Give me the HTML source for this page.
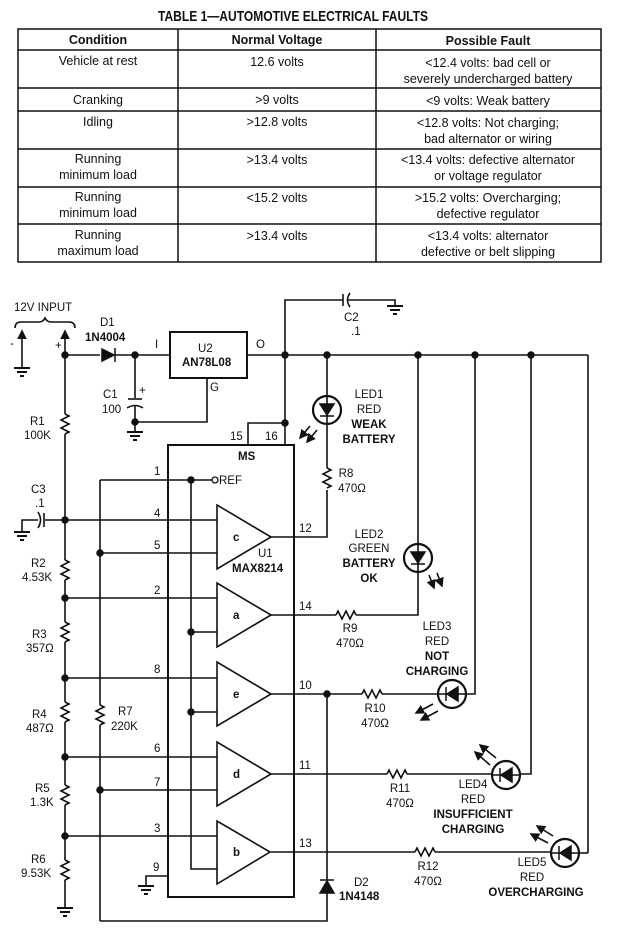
<!DOCTYPE html>
<html><head><meta charset="utf-8"><style>
html,body{margin:0;padding:0;background:#fff;}
svg{display:block;}
text{font-family:"Liberation Sans Narrow","Liberation Sans",sans-serif;fill:#111;}
.t{font-size:12.5px;}
.b{font-weight:bold;}
.c{font-family:"Liberation Sans",sans-serif;font-size:11.5px;}
.cb{font-family:"Liberation Sans",sans-serif;font-size:11.5px;font-weight:bold;}
</style></head><body>
<svg width="628" height="934" viewBox="0 0 628 934" xmlns="http://www.w3.org/2000/svg">
<defs>
<marker id="ar" markerWidth="6" markerHeight="6" refX="5" refY="3" orient="auto"><path d="M0,0 L6,3 L0,6 z" fill="#111"/></marker>
</defs>
<!-- TABLE -->
<text x="158" y="21" textLength="270" lengthAdjust="spacingAndGlyphs" class="b" style="font-size:15px">TABLE 1—AUTOMOTIVE ELECTRICAL FAULTS</text>
<g stroke="#111" stroke-width="1.5" fill="none">
<rect x="18" y="29" width="583" height="233"/>
<line x1="178" y1="29" x2="178" y2="262"/><line x1="376" y1="29" x2="376" y2="262"/>
<line x1="18" y1="50" x2="601" y2="50"/><line x1="18" y1="88" x2="601" y2="88"/>
<line x1="18" y1="111" x2="601" y2="111"/><line x1="18" y1="149" x2="601" y2="149"/>
<line x1="18" y1="187" x2="601" y2="187"/><line x1="18" y1="224" x2="601" y2="224"/>
</g>
<g class="t" text-anchor="middle">
<text x="98" y="44" class="b">Condition</text><text x="277" y="44" class="b">Normal Voltage</text><text x="488" y="45" class="b">Possible Fault</text>
<text x="98" y="65">Vehicle at rest</text><text x="277" y="66">12.6 volts</text><text x="488" y="67">&lt;12.4 volts: bad cell or</text><text x="488" y="83">severely undercharged battery</text>
<text x="98" y="104">Cranking</text><text x="277" y="104">&gt;9 volts</text><text x="488" y="105">&lt;9 volts: Weak battery</text>
<text x="98" y="126">Idling</text><text x="277" y="126">&gt;12.8 volts</text><text x="488" y="127">&lt;12.8 volts: Not charging;</text><text x="488" y="143">bad alternator or wiring</text>
<text x="98" y="163">Running</text><text x="98" y="179">minimum load</text><text x="277" y="164">&gt;13.4 volts</text><text x="488" y="164">&lt;13.4 volts: defective alternator</text><text x="488" y="180">or voltage regulator</text>
<text x="98" y="201">Running</text><text x="98" y="217">minimum load</text><text x="277" y="202">&lt;15.2 volts</text><text x="488" y="202">&gt;15.2 volts: Overcharging;</text><text x="488" y="218">defective regulator</text>
<text x="98" y="239">Running</text><text x="98" y="255">maximum load</text><text x="277" y="240">&gt;13.4 volts</text><text x="488" y="240">&lt;13.4 volts: alternator</text><text x="488" y="256">defective or belt slipping</text>
</g>

<!-- CIRCUIT -->
<g stroke="#111" stroke-width="1.6" fill="none">
<path d="M15,328 q0,-6 6,-6 h18 q4,0 6,-4 q2,4 6,4 h18 q6,0 6,6"/>
<line x1="22" y1="368" x2="22" y2="331" marker-end="url(#ar)"/>
<line x1="65" y1="355" x2="65" y2="331" marker-end="url(#ar)"/>
<line x1="65" y1="355" x2="100" y2="355"/><line x1="115" y1="355" x2="170" y2="355"/>
<rect x="170" y="332" width="77" height="46" stroke-width="2"/>
<line x1="247" y1="355" x2="588" y2="355"/>
<line x1="588" y1="355" x2="588" y2="853"/>
<line x1="135" y1="355" x2="135" y2="398"/><line x1="128" y1="399" x2="142" y2="399"/>
<path d="M127,408 q8,-5 16,0"/><line x1="135" y1="406" x2="135" y2="432"/>
<path d="M207,378 V422 H135"/>
<path d="M285,355 V300 H343"/><line x1="343" y1="294" x2="343" y2="306"/><path d="M350,293 q-5,7 0,14"/><path d="M348,300 H395 V306"/>
<line x1="285" y1="355" x2="285" y2="445"/><path d="M248,445 V423 H285"/>
<rect x="168" y="445" width="126" height="452" stroke-width="2"/>
<line x1="100" y1="480" x2="213" y2="480"/>
<line x1="100" y1="480" x2="100" y2="705"/><path d="M100,705 l4,2 l-8,4 l8,4 l-8,4 l8,4 l-4,2"/><line x1="100" y1="725" x2="100" y2="921"/>
<path d="M100,921 H327 V892"/>
<path d="M191,480 V869 H217"/>
<line x1="65" y1="355" x2="65" y2="414"/><path d="M65,414 l4,2 l-8,4 l8,4 l-8,4 l8,4 l-4,2"/>
<line x1="65" y1="434" x2="65" y2="560"/><path d="M65,560 l4,2 l-8,4 l8,4 l-8,4 l8,4 l-4,2"/>
<line x1="65" y1="580" x2="65" y2="622"/><path d="M65,622 l4,2 l-8,4 l8,4 l-8,4 l8,4 l-4,2"/>
<line x1="65" y1="642" x2="65" y2="702"/><path d="M65,702 l4,2 l-8,4 l8,4 l-8,4 l8,4 l-4,2"/>
<line x1="65" y1="722" x2="65" y2="785"/><path d="M65,785 l4,2 l-8,4 l8,4 l-8,4 l8,4 l-4,2"/>
<line x1="65" y1="805" x2="65" y2="860"/><path d="M65,860 l4,2 l-8,4 l8,4 l-8,4 l8,4 l-4,2"/>
<line x1="65" y1="880" x2="65" y2="908"/>
<line x1="65" y1="520" x2="45" y2="520"/><line x1="44" y1="513" x2="44" y2="527"/><path d="M38,512 q5,8 0,16"/><path d="M38,520 H22 V532"/>
<line x1="65" y1="520" x2="217" y2="520"/><line x1="100" y1="553" x2="217" y2="553"/>
<line x1="65" y1="598" x2="217" y2="598"/><line x1="191" y1="632" x2="217" y2="632"/>
<line x1="65" y1="678" x2="217" y2="678"/><line x1="191" y1="712" x2="217" y2="712"/>
<line x1="65" y1="757" x2="217" y2="757"/><line x1="100" y1="790" x2="217" y2="790"/>
<line x1="65" y1="836" x2="217" y2="836"/>
<path d="M217,505 V569 L271,537 Z"/>
<path d="M217,583 V647 L271,615 Z"/>
<path d="M217,662 V726 L271,694 Z"/>
<path d="M217,742 V806 L271,774 Z"/>
<path d="M217,821 V884 L270,852 Z"/>
<path d="M168,876 H146 V886"/>
<path d="M271,537 H327 V490"/><path d="M327,490 l4,2 l-8,4 l8,4 l-8,4 l8,4 l-4,2" transform="translate(0,-22)"/><line x1="327" y1="468" x2="327" y2="424"/><line x1="327" y1="396" x2="327" y2="355"/>
<path d="M271,615 H336"/><path d="M336,615 l2,-4 l4,8 l4,-8 l4,8 l4,-8 l2,4"/><path d="M356,615 H418 V572"/><line x1="418" y1="544" x2="418" y2="355"/>
<path d="M271,694 H362"/><path d="M362,694 l2,-4 l4,8 l4,-8 l4,8 l4,-8 l2,4"/><line x1="382" y1="694" x2="438" y2="694"/><path d="M466,694 H475 V355"/>
<path d="M271,774 H387"/><path d="M387,774 l2,-4 l4,8 l4,-8 l4,8 l4,-8 l2,4"/><line x1="407" y1="774" x2="492" y2="774"/><path d="M520,774 H531 V355"/>
<path d="M271,852 H415"/><path d="M415,852 l2,-4 l4,8 l4,-8 l4,8 l4,-8 l2,4"/><line x1="435" y1="852" x2="551" y2="852"/><path d="M579,853 H588"/>
<line x1="327" y1="694" x2="327" y2="880"/>
<circle cx="327" cy="410" r="14" stroke-width="2.2"/>
<circle cx="418" cy="558" r="14" stroke-width="2.2"/>
<circle cx="452" cy="694" r="14" stroke-width="2.2"/>
<circle cx="506" cy="775" r="14" stroke-width="2.2"/>
<circle cx="565" cy="853" r="14" stroke-width="2.2"/>
<line x1="327" y1="396" x2="327" y2="424"/><line x1="418" y1="544" x2="418" y2="572"/>
<line x1="438" y1="694" x2="466" y2="694"/><line x1="492" y1="775" x2="520" y2="775"/><line x1="551" y1="853" x2="579" y2="853"/>
<line x1="310" y1="426" x2="300" y2="438" marker-end="url(#ar)"/><line x1="317" y1="430" x2="307" y2="442" marker-end="url(#ar)"/>
<line x1="429" y1="575" x2="434" y2="588" marker-end="url(#ar)"/><line x1="437" y1="573" x2="442" y2="586" marker-end="url(#ar)"/>
<line x1="433" y1="704" x2="416" y2="713" marker-end="url(#ar)"/><line x1="438" y1="711" x2="421" y2="720" marker-end="url(#ar)"/>
<line x1="496" y1="758" x2="480" y2="745" marker-end="url(#ar)"/><line x1="490" y1="765" x2="475" y2="752" marker-end="url(#ar)"/>
<line x1="553" y1="836" x2="537" y2="826" marker-end="url(#ar)"/><line x1="548" y1="843" x2="531" y2="834" marker-end="url(#ar)"/>
<g stroke-width="2">
<line x1="14" y1="368" x2="30" y2="368"/><line x1="17" y1="372" x2="27" y2="372"/><line x1="20" y1="376" x2="24" y2="376"/>
<line x1="127" y1="432" x2="143" y2="432"/><line x1="130" y1="436" x2="140" y2="436"/><line x1="133" y1="440" x2="137" y2="440"/>
<line x1="387" y1="306" x2="403" y2="306"/><line x1="390" y1="310" x2="400" y2="310"/><line x1="393" y1="314" x2="397" y2="314"/>
<line x1="14" y1="532" x2="30" y2="532"/><line x1="17" y1="536" x2="27" y2="536"/><line x1="20" y1="540" x2="24" y2="540"/>
<line x1="57" y1="908" x2="73" y2="908"/><line x1="60" y1="912" x2="70" y2="912"/><line x1="63" y1="916" x2="67" y2="916"/>
<line x1="138" y1="886" x2="154" y2="886"/><line x1="141" y1="890" x2="151" y2="890"/><line x1="144" y1="894" x2="148" y2="894"/>
</g>
</g>
<g fill="#111" stroke="#111" stroke-width="1.5">
<path d="M102,349 L114,355 L102,361 Z"/><line x1="115" y1="348" x2="115" y2="362"/>
<path d="M320,404 L334,404 L327,415 Z"/><line x1="320" y1="416" x2="334" y2="416"/>
<path d="M411,552 L425,552 L418,563 Z"/><line x1="411" y1="564" x2="425" y2="564"/>
<path d="M458,687 L458,701 L447,694 Z"/><line x1="446" y1="687" x2="446" y2="701"/>
<path d="M512,768 L512,782 L501,775 Z"/><line x1="500" y1="768" x2="500" y2="782"/>
<path d="M571,846 L571,860 L560,853 Z"/><line x1="559" y1="846" x2="559" y2="860"/>
<path d="M320,893 L334,893 L327,881 Z"/><line x1="320" y1="880" x2="334" y2="880"/>
<circle cx="65" cy="355" r="3"/><circle cx="135" cy="355" r="3"/><circle cx="135" cy="422" r="3"/>
<circle cx="285" cy="355" r="3"/><circle cx="327" cy="355" r="3"/><circle cx="418" cy="355" r="3"/><circle cx="475" cy="355" r="3"/><circle cx="531" cy="355" r="3"/>
<circle cx="285" cy="423" r="3"/><circle cx="191" cy="480" r="3"/>
<circle cx="65" cy="520" r="3"/><circle cx="100" cy="553" r="3"/><circle cx="65" cy="598" r="3"/><circle cx="191" cy="632" r="3"/>
<circle cx="65" cy="678" r="3"/><circle cx="191" cy="712" r="3"/><circle cx="65" cy="757" r="3"/><circle cx="100" cy="790" r="3"/><circle cx="65" cy="836" r="3"/>
<circle cx="327" cy="694" r="3"/>
</g>
<circle cx="215" cy="480" r="3" fill="#fff" stroke="#111" stroke-width="1.3"/>
<g class="c">
<text x="14" y="311">12V INPUT</text>
<text x="10" y="347">-</text><text x="55" y="349">+</text>
<text x="100" y="326">D1</text><text x="85" y="341" class="cb">1N4004</text>
<text x="155" y="348">I</text><text x="256" y="348">O</text>
<text x="198" y="352">U2</text><text x="182" y="366" class="cb">AN78L08</text>
<text x="210" y="391">G</text>
<text x="103" y="398">C1</text><text x="102" y="413">100</text><text x="139" y="394">+</text>
<text x="344" y="321">C2</text><text x="351" y="335">.1</text>
<text x="30" y="425">R1</text><text x="24" y="439">100K</text>
<text x="31" y="493">C3</text><text x="35" y="507">.1</text>
<text x="31" y="567">R2</text><text x="22" y="581">4.53K</text>
<text x="32" y="638">R3</text><text x="26" y="652">357Ω</text>
<text x="32" y="718">R4</text><text x="26" y="732">487Ω</text>
<text x="35" y="792">R5</text><text x="30" y="806">1.3K</text>
<text x="31" y="863">R6</text><text x="21" y="877">9.53K</text>
<text x="118" y="715">R7</text><text x="111" y="730">220K</text>
<text x="230" y="440">15</text><text x="265" y="440">16</text>
<text x="238" y="460" class="cb">MS</text>
<text x="219" y="484">REF</text>
<text x="154" y="475">1</text><text x="154" y="517">4</text><text x="154" y="549">5</text><text x="154" y="594">2</text><text x="154" y="673">8</text><text x="154" y="752">6</text><text x="154" y="786">7</text><text x="154" y="832">3</text><text x="153" y="871">9</text>
<text x="299" y="532">12</text><text x="299" y="610">14</text><text x="299" y="689">10</text><text x="299" y="769">11</text><text x="299" y="847">13</text>
<text x="233" y="541" class="cb">c</text><text x="233" y="619" class="cb">a</text><text x="233" y="698" class="cb">e</text><text x="233" y="778" class="cb">d</text><text x="233" y="856" class="cb">b</text>
<text x="258" y="557">U1</text><text x="232" y="572" class="cb">MAX8214</text>
<g text-anchor="middle">
<text x="369" y="398">LED1</text><text x="369" y="413">RED</text><text x="369" y="428" class="cb">WEAK</text><text x="369" y="443" class="cb">BATTERY</text>
<text x="346" y="477">R8</text><text x="352" y="492">470Ω</text>
<text x="369" y="538">LED2</text><text x="369" y="552">GREEN</text><text x="369" y="567" class="cb">BATTERY</text><text x="369" y="582" class="cb">OK</text>
<text x="350" y="632">R9</text><text x="350" y="647">470Ω</text>
<text x="437" y="630">LED3</text><text x="437" y="645">RED</text><text x="437" y="660" class="cb">NOT</text><text x="437" y="675" class="cb">CHARGING</text>
<text x="375" y="712">R10</text><text x="375" y="727">470Ω</text>
<text x="400" y="792">R11</text><text x="400" y="807">470Ω</text>
<text x="473" y="788">LED4</text><text x="473" y="803">RED</text><text x="473" y="818" class="cb">INSUFFICIENT</text><text x="473" y="833" class="cb">CHARGING</text>
<text x="428" y="870">R12</text><text x="428" y="885">470Ω</text>
<text x="532" y="866">LED5</text><text x="532" y="881">RED</text><text x="536" y="896" class="cb">OVERCHARGING</text>
</g>
<text x="354" y="886">D2</text><text x="339" y="900" class="cb">1N4148</text>
</g>
</svg>
</body></html>
